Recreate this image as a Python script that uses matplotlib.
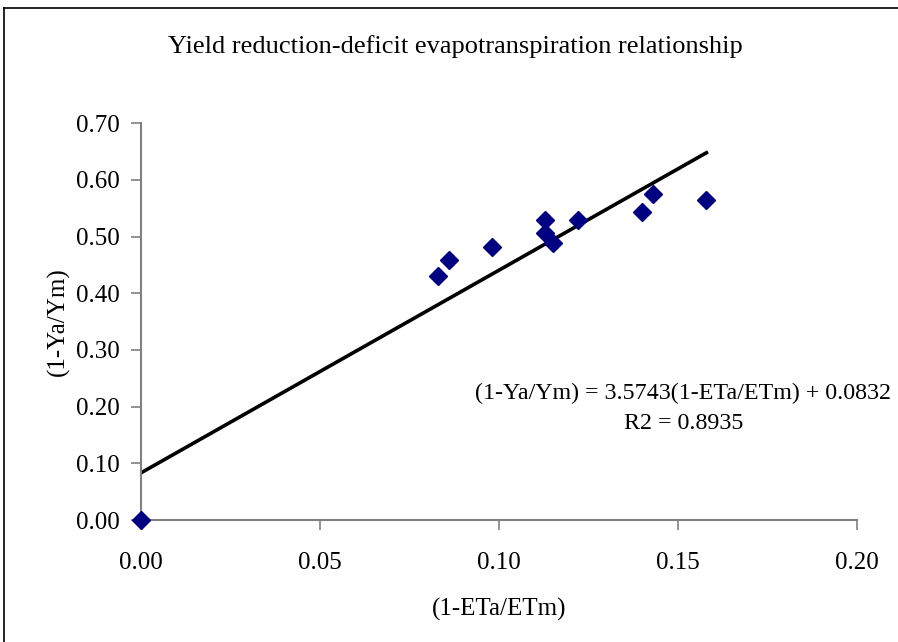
import matplotlib
matplotlib.use("Agg")
import matplotlib.pyplot as plt
from matplotlib.lines import Line2D

plt.rcParams['font.family'] = ['Liberation Serif', 'DejaVu Serif']

# deficit evapotranspiration (1-ETa/ETm) vs yield reduction (1-Ya/Ym)
et_deficit = [0.0, 0.083, 0.086, 0.098, 0.113, 0.113, 0.115, 0.122, 0.140, 0.143, 0.158]
yield_red = [0.0, 0.431, 0.458, 0.482, 0.529, 0.507, 0.489, 0.529, 0.543, 0.575, 0.564]
slope = 3.5743
intercept = 0.0832
r2 = 0.8935

fig = plt.figure(figsize=(8.98, 6.42), dpi=100)
ax = fig.add_axes([0.157, 0.190, 0.797, 0.618])

# trend line from 0 to the largest x
x_fit = [0.0, max(et_deficit)]
y_fit = [slope * x + intercept for x in x_fit]
ax.plot(x_fit, y_fit, color='black', linewidth=2.6, zorder=2)
ax.plot(et_deficit, yield_red, linestyle='none', marker='D', markersize=9,
        color='#000080', zorder=3, clip_on=False)

ax.set_xlim(0, 0.20)
ax.set_ylim(0, 0.70)
ax.set_xticks([0.0, 0.05, 0.10, 0.15, 0.20])
ax.set_yticks([i / 10 for i in range(8)])
ax.xaxis.set_major_formatter(lambda v, p: f"{v:.2f}")
ax.yaxis.set_major_formatter(lambda v, p: f"{v:.2f}")
ax.tick_params(direction='out', length=7, width=1.2, color='#808080',
               labelsize=18, pad=8)
ax.tick_params(axis='x', pad=16)

for s in ('top', 'right'):
    ax.spines[s].set_visible(False)
for s in ('left', 'bottom'):
    ax.spines[s].set_color('#808080')
    ax.spines[s].set_linewidth(1.5)

ax.set_xlabel('(1-ETa/ETm)', fontsize=18, labelpad=17)
ax.set_ylabel('(1-Ya/Ym)', fontsize=18, labelpad=5)
fig.text(0.507, 0.928, 'Yield reduction-deficit evapotranspiration relationship',
         ha='center', va='center', fontsize=19)

ax.text(0.761, 0.364, f'(1-Ya/Ym) = {slope}(1-ETa/ETm) + {intercept}\nR2 = {r2}',
        transform=fig.transFigure, ha='center', va='center', fontsize=17.3,
        linespacing=1.55)

# chart area border (top and left edges visible)
fig.add_artist(Line2D([4 / 898, 4 / 898], [0, 1 - 8 / 642], color='black',
                      linewidth=1.2, transform=fig.transFigure))
fig.add_artist(Line2D([4 / 898, 1], [1 - 8 / 642, 1 - 8 / 642], color='black',
                      linewidth=1.2, transform=fig.transFigure))

fig.savefig('out.png', dpi=100)
